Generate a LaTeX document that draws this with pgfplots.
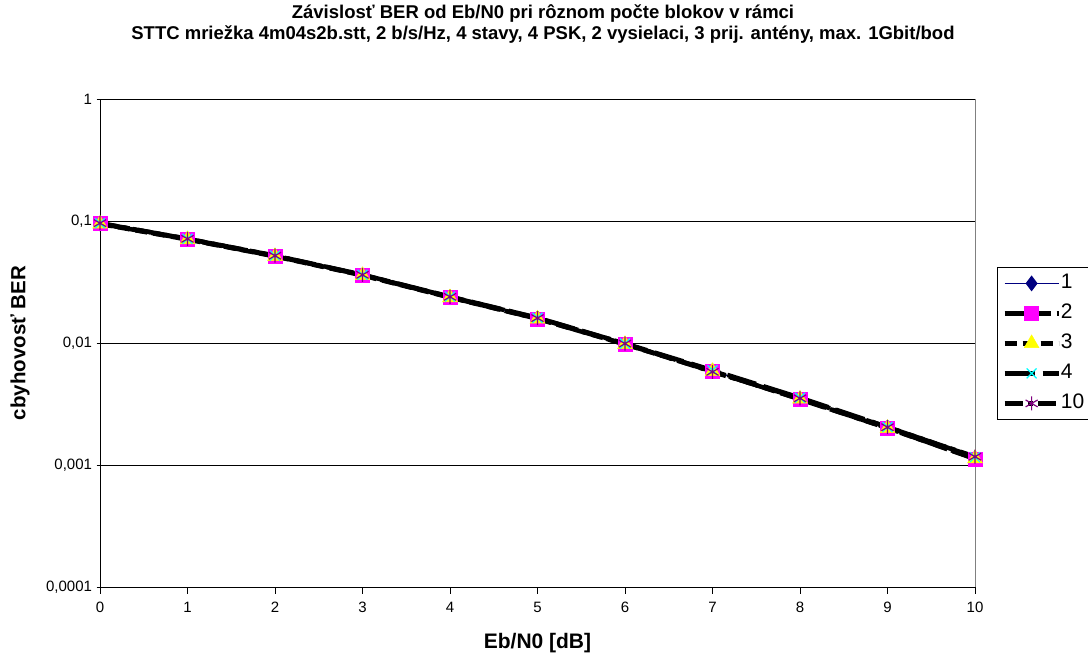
\documentclass[border=0pt]{standalone}
\usepackage{pgfplots}
\pgfplotsset{compat=1.18}
\usepackage{fontspec}
\setmainfont{Liberation Sans}
\definecolor{navyE}{RGB}{0,0,128}
\definecolor{magE}{RGB}{255,0,255}
\definecolor{yelE}{RGB}{255,255,0}
\definecolor{cyanE}{RGB}{0,255,255}
\definecolor{purpE}{RGB}{128,0,128}
\begin{document}
\begin{tikzpicture}[x=1pt,y=1pt]
\useasboundingbox (0,0) rectangle (1088,656);
\begin{axis}[
  at={(100pt,69pt)}, anchor=south west,
  scale only axis, width=875pt, height=488pt,
  ymode=log, xmin=0, xmax=10, ymin=0.0001, ymax=1,
  xtick={0,1,...,10},
  ytick={0.0001,0.001,0.01,0.1,1},
  yticklabels={{0,0001},{0,001},{0,01},{0,1},{1}},
  /pgf/number format/assume math mode=true,
  yminorticks=false,
  ymajorgrids, major grid style={black, line width=0.8pt},
  axis x line*=bottom, axis y line*=left,
  axis line style={black, line width=0.9pt, -},
  tick style={black, line width=0.8pt},
  xtick align=outside, ytick align=center,
  major tick length=7pt,
  ticklabel style={font=\fontsize{15}{17}\selectfont},
  xticklabel style={yshift=-5pt},
  yticklabel style={xshift=-1pt},
  xlabel={\bfseries Eb/N0 [dB]},
  ylabel={\bfseries cbyhovosť BER},
  xlabel style={font=\fontsize{21}{24}\selectfont, at={(axis description cs:0.5,0)}, anchor=center, yshift=-56pt},
  ylabel style={font=\fontsize{20.5}{24}\selectfont, at={(axis description cs:0,0.5)}, anchor=center, yshift=80pt},
  clip=false,
  legend style={at={(1.0251,0.6557)}, anchor=north west, draw=black, line width=0.8pt,
    font=\fontsize{21}{24}\selectfont, row sep=0pt, column sep=0pt, inner xsep=5pt, inner ysep=1pt,
    nodes={inner sep=0pt, text height=20pt, text depth=10pt}},
  legend cell align=left,
  legend image code/.code={\draw[mark repeat=2,mark phase=2,#1] plot coordinates {(0pt,0pt) (27pt,0pt) (54pt,0pt)};},
]
\draw[gray, line width=0.8pt] (axis cs:10,0.0001) -- (axis cs:10,1);
\addplot[navyE, line width=1.2pt, mark=diamond*, mark size=7pt, mark options={solid, fill=navyE, draw=navyE}] coordinates {
(0,0.0955) (1,0.0712) (2,0.0518) (3,0.0361) (4,0.0238) (5,0.0160) (6,0.00985) (7,0.00592) (8,0.00350) (9,0.00203) (10,0.00114)};
\addlegendentry{1}
\addplot[black, line width=4.5pt, dash pattern=on 20pt off 6pt, mark=square*, mark size=7pt, mark options={solid, line width=0.5pt, fill=magE, draw=magE}] coordinates {
(0,0.0950) (1,0.0708) (2,0.0515) (3,0.0360) (4,0.0237) (5,0.0158) (6,0.00978) (7,0.00590) (8,0.00345) (9,0.00201) (10,0.00112)};
\addlegendentry{2}
\addplot[black, line width=4.5pt, dash pattern=on 12pt off 6pt, mark=triangle*, mark size=8.5pt, mark options={solid, line width=0.5pt, fill=yelE, draw=yelE}] coordinates {
(0,0.0945) (1,0.0705) (2,0.0513) (3,0.0358) (4,0.0236) (5,0.0158) (6,0.00975) (7,0.00585) (8,0.00348) (9,0.00200) (10,0.00113)};
\addlegendentry{3}
\addplot[black, line width=4.5pt, dash pattern=on 30pt off 8pt, mark=x, mark size=7pt, mark options={solid, line width=1.2pt, draw=cyanE}] coordinates {
(0,0.0958) (1,0.0715) (2,0.0520) (3,0.0363) (4,0.0240) (5,0.0161) (6,0.00990) (7,0.00598) (8,0.00356) (9,0.00205) (10,0.00116)};
\addlegendentry{4}
\addplot[black, line width=4.5pt, dash pattern=on 18pt off 5pt on 5pt off 5pt, mark=asterisk, mark size=7pt, mark options={solid, line width=1.2pt, draw=purpE}] coordinates {
(0,0.0960) (1,0.0714) (2,0.0519) (3,0.0362) (4,0.0239) (5,0.0160) (6,0.00988) (7,0.00580) (8,0.00352) (9,0.00204) (10,0.00117)};
\addlegendentry{10}
\end{axis}
\node[font=\bfseries\fontsize{18.5}{21}\selectfont, align=center] at (543,632) {Závislosť BER od Eb/N0 pri rôznom počte blokov v rámci\\STTC mriežka 4m04s2b.stt, 2 b/s/Hz, 4 stavy, 4 PSK, 2 vysielaci, 3 prij. antény, max. 1Gbit/bod};
\end{tikzpicture}
\end{document}
